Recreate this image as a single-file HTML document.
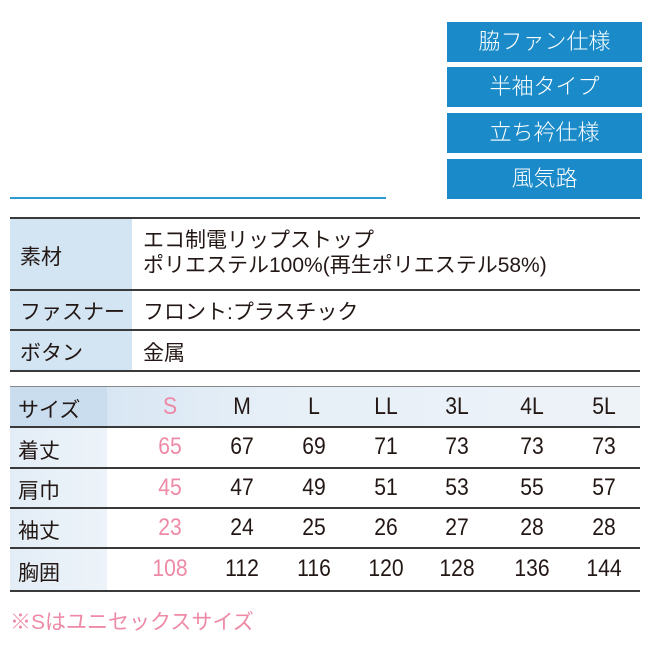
<!DOCTYPE html>
<html><head><meta charset="utf-8"><style>
body{margin:0;width:650px;height:650px;background:#fff;position:relative;overflow:hidden;font-family:"Liberation Sans","Noto Sans CJK JP",sans-serif;color:#231815}
.b{position:absolute;left:447px;width:195px;height:40px;background:#1a8ac8;color:#fff;font-size:22px;text-align:center;line-height:40px;font-weight:300}
.a{position:absolute}
.hl{position:absolute;left:10px;width:630px;height:2px;background:#3a3a3a}
.t{position:absolute;font-size:21px;white-space:nowrap}
.n{position:absolute;font-size:24px;width:70px;text-align:center;transform:scaleX(.88)}
.p{color:#ee8aa5}
</style></head><body>
<div class="b" style="top:22px">脇ファン仕様</div>
<div class="b" style="top:67px">半袖タイプ</div>
<div class="b" style="top:113px">立ち衿仕様</div>
<div class="b" style="top:159px">風気路</div>
<div class="a" style="left:10px;top:197px;width:376px;height:2px;background:#2a9bd0"></div>

<div class="a" style="left:10px;top:218px;width:122px;height:153px;background:#d3e4f2"></div>
<div class="hl" style="top:217px"></div>
<div class="hl" style="top:289px"></div>
<div class="hl" style="top:329px"></div>
<div class="hl" style="top:370px"></div>
<div class="t" style="left:20px;top:241px">素材</div>
<div class="t" style="left:143px;top:228px;line-height:25px">エコ制電リップストップ<br>ポリエステル100%(再生ポリエステル58%)</div>
<div class="t" style="left:20px;top:296px">ファスナー</div>
<div class="t" style="left:143px;top:296px">フロント:プラスチック</div>
<div class="t" style="left:20px;top:337px">ボタン</div>
<div class="t" style="left:143px;top:337px">金属</div>

<div class="a" style="left:10px;top:387px;width:630px;height:40px;background:linear-gradient(90deg,#cfe1f1,#e6eff7 40%,#eef3f8)"></div>
<div class="a" style="left:10px;top:427px;width:97px;height:164px;background:linear-gradient(90deg,#e3edf6,#edf3f9)"></div>
<div class="a" style="left:10px;top:387px;width:97px;height:40px;background:#c9ddef"></div>
<div class="hl" style="top:386px;height:1px;background:#888"></div>
<div class="hl" style="top:426px"></div>
<div class="hl" style="top:467px"></div>
<div class="hl" style="top:507px"></div>
<div class="hl" style="top:547px"></div>
<div class="hl" style="top:590px"></div>

<div class="t" style="left:18px;top:394px">サイズ</div>
<div class="t" style="left:18px;top:435px">着丈</div>
<div class="t" style="left:18px;top:475px">肩巾</div>
<div class="t" style="left:18px;top:515px">袖丈</div>
<div class="t" style="left:18px;top:557px">胸囲</div>

<div class="n p" style="left:135px;top:393px">S</div><div class="n" style="left:207px;top:393px">M</div><div class="n" style="left:279px;top:393px">L</div><div class="n" style="left:351px;top:393px">LL</div><div class="n" style="left:422px;top:393px">3L</div><div class="n" style="left:497px;top:393px">4L</div><div class="n" style="left:569px;top:393px">5L</div>
<div class="n p" style="left:135px;top:433px">65</div><div class="n" style="left:207px;top:433px">67</div><div class="n" style="left:279px;top:433px">69</div><div class="n" style="left:351px;top:433px">71</div><div class="n" style="left:422px;top:433px">73</div><div class="n" style="left:497px;top:433px">73</div><div class="n" style="left:569px;top:433px">73</div>
<div class="n p" style="left:135px;top:474px">45</div><div class="n" style="left:207px;top:474px">47</div><div class="n" style="left:279px;top:474px">49</div><div class="n" style="left:351px;top:474px">51</div><div class="n" style="left:422px;top:474px">53</div><div class="n" style="left:497px;top:474px">55</div><div class="n" style="left:569px;top:474px">57</div>
<div class="n p" style="left:135px;top:514px">23</div><div class="n" style="left:207px;top:514px">24</div><div class="n" style="left:279px;top:514px">25</div><div class="n" style="left:351px;top:514px">26</div><div class="n" style="left:422px;top:514px">27</div><div class="n" style="left:497px;top:514px">28</div><div class="n" style="left:569px;top:514px">28</div>
<div class="n p" style="left:135px;top:555px">108</div><div class="n" style="left:207px;top:555px">112</div><div class="n" style="left:279px;top:555px">116</div><div class="n" style="left:351px;top:555px">120</div><div class="n" style="left:422px;top:555px">128</div><div class="n" style="left:497px;top:555px">136</div><div class="n" style="left:569px;top:555px">144</div>

<div class="t p" style="left:10px;top:606px;font-size:21px">※Sはユニセックスサイズ</div>
</body></html>
